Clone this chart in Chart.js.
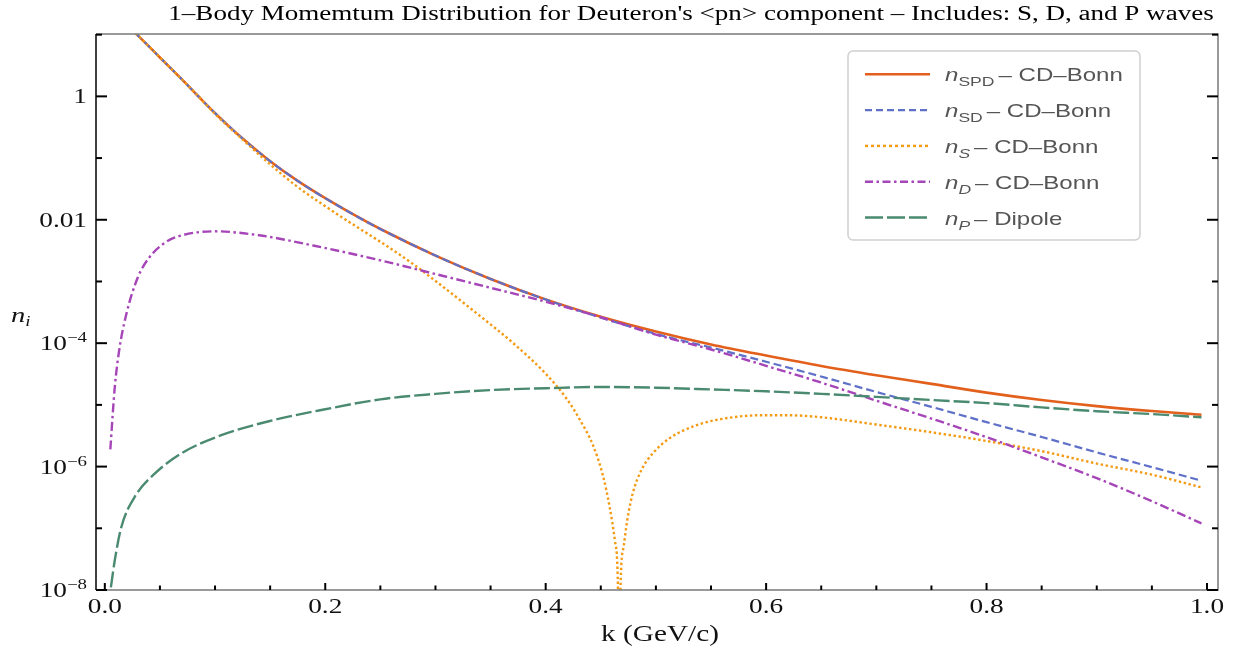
<!DOCTYPE html>
<html>
<head>
<meta charset="utf-8">
<script src="https://cdn.jsdelivr.net/npm/chart.js@4.4.1/dist/chart.umd.min.js"></script>
<style>
  html, body { margin: 0; padding: 0; background: #fff; }
  #wrap { width: 1238px; height: 655px; position: relative; }
</style>
</head>
<body>
<div id="wrap"><canvas id="myChart"></canvas></div>
<script>
// k in GeV/c, n_i (log axis)
const kSPD = [0.028, 0.04, 0.05, 0.07, 0.085, 0.1, 0.125, 0.15, 0.175, 0.2, 0.23, 0.25, 0.3, 0.35, 0.4, 0.45, 0.5, 0.55, 0.6, 0.65, 0.7, 0.75, 0.8, 0.85, 0.9, 0.95, 0.995];
const nSPD = [10.5, 6.46, 4.27, 1.88, 0.995, 0.535, 0.207, 8.9e-2, 4.27e-2, 2.24e-2, 1.1e-2, 7.08e-3, 2.63e-3, 1.1e-3, 5.13e-4, 2.69e-4, 1.55e-4, 9.55e-5, 6.31e-5, 4.27e-5, 3.02e-5, 2.19e-5, 1.58e-5, 1.2e-5, 9.55e-6, 7.94e-6, 6.92e-6];

const kSD = [0.028, 0.04, 0.05, 0.07, 0.085, 0.1, 0.125, 0.15, 0.175, 0.2, 0.23, 0.25, 0.3, 0.35, 0.4, 0.45, 0.5, 0.55, 0.6, 0.65, 0.7, 0.75, 0.8, 0.85, 0.9, 0.95, 0.995];
const nSD = [10.5, 6.46, 4.27, 1.88, 0.995, 0.535, 0.207, 8.9e-2, 4.27e-2, 2.24e-2, 1.1e-2, 7.08e-3, 2.63e-3, 1.1e-3, 5.1e-4, 2.6e-4, 1.41e-4, 8.5e-5, 5.0e-5, 2.88e-5, 1.62e-5, 9.3e-6, 5.25e-6, 3.02e-6, 1.7e-6, 9.8e-7, 5.9e-7];

const kS = [0.028, 0.04, 0.05, 0.07, 0.085, 0.1, 0.125, 0.15, 0.175, 0.2, 0.23, 0.25, 0.28, 0.3, 0.34, 0.37, 0.4, 0.419, 0.431, 0.443, 0.452, 0.458, 0.4628, 0.4655, 0.4667, 0.468, 0.4707, 0.474, 0.479, 0.487, 0.4975, 0.5127, 0.537, 0.567, 0.597, 0.62, 0.65, 0.7, 0.75, 0.8, 0.85, 0.9, 0.95, 0.995];
const nS = [10.5, 6.46, 4.27, 1.88, 0.995, 0.519, 0.20, 7.9e-2, 3.4e-2, 1.66e-2, 7.4e-3, 4.4e-3, 1.9e-3, 1.02e-3, 2.8e-4, 1.02e-4, 3.2e-5, 1.26e-5, 5.75e-6, 2.2e-6, 7.1e-7, 2.24e-7, 6.3e-8, 1.26e-8, 1e-10, 1.26e-8, 5.0e-8, 1.35e-7, 3.7e-7, 8.9e-7, 1.66e-6, 2.9e-6, 4.7e-6, 6.2e-6, 6.8e-6, 6.8e-6, 6.3e-6, 4.8e-6, 3.6e-6, 2.6e-6, 1.78e-6, 1.12e-6, 7.4e-7, 4.6e-7];

const kD = [0.005, 0.009, 0.013, 0.02, 0.03, 0.04, 0.055, 0.07, 0.1, 0.14, 0.19, 0.25, 0.3, 0.35, 0.4, 0.45, 0.5, 0.55, 0.6, 0.65, 0.7, 0.75, 0.8, 0.85, 0.9, 0.95, 0.995];
const nD = [1.9e-6, 1.9e-5, 7.6e-5, 3.2e-4, 1.17e-3, 2.4e-3, 4.3e-3, 5.6e-3, 6.5e-3, 5.6e-3, 3.8e-3, 2.2e-3, 1.32e-3, 7.9e-4, 4.7e-4, 2.63e-4, 1.38e-4, 7.9e-5, 4.3e-5, 2.3e-5, 1.17e-5, 6.0e-6, 3.0e-6, 1.41e-6, 6.5e-7, 2.75e-7, 1.2e-7];

const kP = [0.0055, 0.009, 0.015, 0.027, 0.045, 0.07, 0.105, 0.15, 0.2, 0.25, 0.3, 0.35, 0.4, 0.45, 0.5, 0.55, 0.6, 0.65, 0.7, 0.75, 0.8, 0.85, 0.9, 0.95, 0.995];
const nP = [1.1e-8, 3.0e-8, 1.05e-7, 3.2e-7, 7.6e-7, 1.66e-6, 3.2e-6, 5.5e-6, 8.5e-6, 1.23e-5, 1.51e-5, 1.74e-5, 1.86e-5, 1.95e-5, 1.9e-5, 1.78e-5, 1.66e-5, 1.51e-5, 1.35e-5, 1.2e-5, 1.07e-5, 9.1e-6, 7.9e-6, 7.1e-6, 6.3e-6];

const seriesSub = ["SPD", "SD", "S", "D", "P"];
const seriesSource = ["CD\u2013Bonn", "CD\u2013Bonn", "CD\u2013Bonn", "CD\u2013Bonn", "Dipole"];

const xMajorTicks = [0, 0.2, 0.4, 0.6, 0.8, 1.0];
const xTickLabels = ["0.0", "0.2", "0.4", "0.6", "0.8", "1.0"];
const xMinorTicks = [0.05, 0.1, 0.15, 0.25, 0.3, 0.35, 0.45, 0.5, 0.55, 0.65, 0.7, 0.75, 0.85, 0.9, 0.95];
const yMajorTicks = [1e-8, 1e-6, 1e-4, 1e-2, 1];
const yTickLabels = [["10", "\u22128"], ["10", "\u22126"], ["10", "\u22124"], ["0.01", ""], ["1", ""]];
const yMinorTicks = [1e-7, 1e-5, 1e-3, 0.1, 10];

const SX = 1.3; // reference picture is stretched sideways, text too
const SERIF = "'Liberation Serif', 'DejaVu Serif', serif";
const SANS = "'Liberation Sans', Arial, sans-serif";

// draw a list of text runs {t, font, dy} stretched by SX
function drawRuns(ctx, runs, x, y, align) {
  let total = 0;
  runs.forEach(r => { ctx.font = r.font; total += ctx.measureText(r.t).width * SX + (r.gap || 0); });
  let cx = x;
  if (align === "center") cx = x - total / 2;
  if (align === "right") cx = x - total;
  runs.forEach(r => {
    ctx.font = r.font;
    ctx.save();
    ctx.translate(cx, y + (r.dy || 0));
    ctx.scale(SX, 1);
    ctx.textAlign = "left";
    ctx.fillText(r.t, 0, 0);
    ctx.restore();
    cx += ctx.measureText(r.t).width * SX + (r.gap || 0);
  });
}

const framePlugin = {
  id: "frame",
  afterDatasetsDraw(chart) {
    const { ctx, chartArea: a, scales } = chart;
    const xs = scales.x, ys = scales.y;
    ctx.save();
    // frame
    ctx.lineWidth = 1.5;
    ctx.strokeStyle = "#7a7a7a";
    ctx.beginPath();
    ctx.moveTo(a.left, a.top); ctx.lineTo(a.right, a.top); ctx.lineTo(a.right, a.bottom); ctx.lineTo(a.left, a.bottom);
    ctx.stroke();
    ctx.strokeStyle = "#000";
    ctx.beginPath(); ctx.moveTo(a.left, a.top); ctx.lineTo(a.left, a.bottom); ctx.stroke();

    // ticks, pointing inward
    ctx.strokeStyle = "#000";
    ctx.lineWidth = 2;
    const tick = (x1, y1, x2, y2) => { ctx.beginPath(); ctx.moveTo(x1, y1); ctx.lineTo(x2, y2); ctx.stroke(); };
    xMajorTicks.forEach(v => { const px = xs.getPixelForValue(v); tick(px, a.bottom, px, a.bottom - 7); });
    xMinorTicks.forEach(v => { const px = xs.getPixelForValue(v); tick(px, a.bottom, px, a.bottom - 4.5); });
    yMajorTicks.forEach(v => {
      const py = ys.getPixelForValue(v);
      tick(a.left, py, a.left + 11, py);
      tick(a.right, py, a.right - 11, py);
    });
    yMinorTicks.forEach(v => {
      const py = ys.getPixelForValue(v);
      tick(a.left, py, a.left + 6, py);
      tick(a.right, py, a.right - 6, py);
    });

    // tick labels
    ctx.fillStyle = "#111";
    ctx.textBaseline = "alphabetic";
    xMajorTicks.forEach((v, i) => {
      drawRuns(ctx, [{ t: xTickLabels[i], font: "21px " + SERIF }], xs.getPixelForValue(v), a.bottom + 23, "center");
    });
    yMajorTicks.forEach((v, i) => {
      const py = ys.getPixelForValue(v);
      const [base, sup] = yTickLabels[i];
      const runs = [{ t: base, font: "21px " + SERIF }];
      if (sup) runs.push({ t: sup, font: "14.5px " + SERIF, dy: -8 });
      drawRuns(ctx, runs, a.left - 9, py + 7, "right");
    });

    // axis titles and chart title
    drawRuns(ctx, [{ t: "k (GeV/c)", font: "22.5px " + SERIF }], (a.left + a.right) / 2 + 3, a.bottom + 51, "center");
    drawRuns(ctx, [{ t: "n", font: "italic 22px " + SERIF }, { t: "i", font: "italic 14.5px " + SERIF, dy: 4 }], 11, 322, "left");
    ctx.fillStyle = "#000";
    drawRuns(ctx, [{ t: "1\u2013Body Momemtum Distribution for Deuteron's <pn> component \u2013 Includes: S, D, and P waves", font: "20.8px " + SERIF }], 691, 20, "center");

    // legend
    const lx = 848, ly = 51, lw = 292, lh = 189;
    ctx.fillStyle = "rgba(255,255,255,0.9)";
    ctx.strokeStyle = "#d0d0d0";
    ctx.lineWidth = 1.5;
    ctx.beginPath();
    ctx.roundRect(lx, ly, lw, lh, 5);
    ctx.fill(); ctx.stroke();
    chart.data.datasets.forEach((ds, i) => {
      const ry = 74.3 + i * 35.8;
      ctx.save();
      ctx.strokeStyle = ds.borderColor;
      ctx.lineWidth = ds.borderWidth;
      ctx.setLineDash(ds.legendDash);
      ctx.beginPath(); ctx.moveTo(865, ry); ctx.lineTo(930, ry); ctx.stroke();
      ctx.restore();
      ctx.fillStyle = "#555";
      const subItalic = seriesSub[i].length === 1;
      drawRuns(ctx, [
        { t: "n", font: "italic 18.5px " + SANS },
        { t: seriesSub[i], font: (subItalic ? "italic " : "") + "13.5px " + SANS, dy: 5, gap: 4 },
        { t: "\u2013 " + seriesSource[i], font: "18.5px " + SANS }
      ], 945, ry + 7, "left");
    });
    ctx.restore();
  }
};

const toPoints = (ks, ns) => ks.map((k, i) => ({ x: k, y: ns[i] }));

const chart = new Chart(document.getElementById("myChart").getContext("2d"), {
  type: "line",
  data: {
    datasets: [
      { label: "n_SPD - CD-Bonn", data: toPoints(kSPD, nSPD), borderColor: "#e2601c", borderWidth: 2.6, borderDash: [], legendDash: [], order: 4 },
      { label: "n_SD - CD-Bonn", data: toPoints(kSD, nSD), borderColor: "#5f70c8", borderWidth: 2.2, borderDash: [8, 4], legendDash: [7, 4], order: 3 },
      { label: "n_S - CD-Bonn", data: toPoints(kS, nS), borderColor: "#f39a12", borderWidth: 2.4, borderDash: [2.4, 2.6], legendDash: [3, 3], order: 2 },
      { label: "n_D - CD-Bonn", data: toPoints(kD, nD), borderColor: "#a645b8", borderWidth: 2.4, borderDash: [9, 3.5, 2.5, 3.5], legendDash: [8, 3.5, 2.5, 3.5], order: 1 },
      { label: "n_P - Dipole", data: toPoints(kP, nP), borderColor: "#4a8a70", borderWidth: 2.4, borderDash: [16, 4], legendDash: [18, 4], order: 0 }
    ].map(ds => Object.assign(ds, { pointRadius: 0, fill: false, cubicInterpolationMode: "monotone", clip: 0 }))
  },
  options: {
    responsive: true,
    maintainAspectRatio: false,
    animation: false,
    layout: { padding: { left: 96, right: 20, top: 34, bottom: 65 } },
    plugins: { legend: { display: false }, tooltip: { enabled: false }, title: { display: false } },
    scales: {
      x: { type: "linear", min: -0.008, max: 1.01, display: false },
      y: { type: "logarithmic", min: 1e-8, max: 10.25, display: false }
    }
  },
  plugins: [framePlugin]
});
</script>
</body>
</html>
